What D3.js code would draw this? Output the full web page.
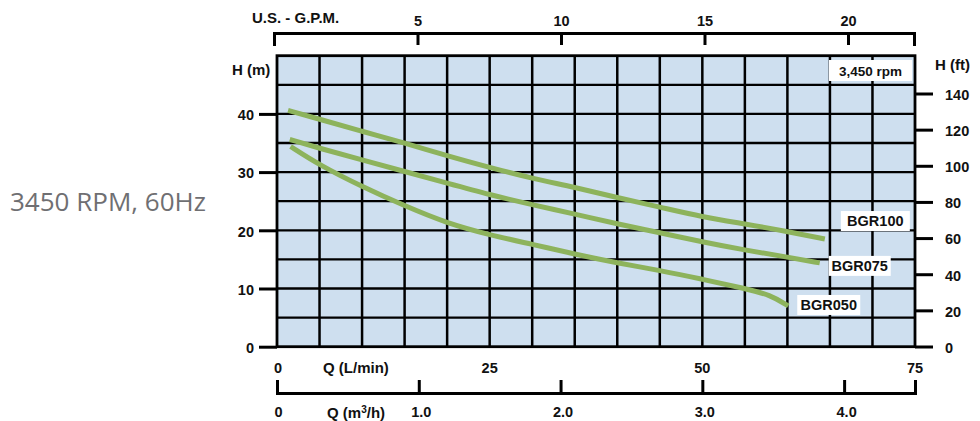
<!DOCTYPE html>
<html>
<head>
<meta charset="utf-8">
<script src="https://cdn.jsdelivr.net/npm/d3@7"></script>
<style>
  body { margin: 0; background: #fff; }
  svg text { font-family: "Liberation Sans", Arial, sans-serif; font-weight: bold; fill: #111; }
  .axis path, .axis line { stroke: #000; }
</style>
</head>
<body>
<div id="chart-area"></div>
<script>
// Data (Q in L/min, H in m)
var bgr100Q = [1.3, 5, 10, 15, 20, 25, 30, 35, 40, 45, 50, 55, 60, 64.4]
var bgr100H = [40.6, 39.1, 37.0, 35.0, 32.8, 30.8, 28.9, 27.4, 25.6, 24.0, 22.3, 21.1, 19.8, 18.5]
var bgr075Q = [1.5, 5, 10, 15, 20, 25, 30, 35, 40, 45, 50, 55, 60, 63.8]
var bgr075H = [35.6, 34.1, 32.1, 30.1, 28.1, 26.1, 24.4, 22.8, 21.1, 19.6, 18.0, 16.6, 15.4, 14.4]
var bgr050Q = [1.6, 5, 10, 15, 20, 25, 30, 35, 40, 45, 50, 55, 58, 60.1]
var bgr050H = [34.4, 31.2, 27.5, 24.2, 21.2, 19.2, 17.6, 15.9, 14.4, 13.1, 11.6, 10.0, 8.9, 7.0]
var seriesNames = ['BGR100', 'BGR075', 'BGR050']

// tick labels
var headTicksM = [0, 10, 20, 30, 40]
var headTicksFt = [0, 20, 40, 60, 80, 100, 120, 140]
var flowTicksLpm = [0, 25, 50, 75]
var flowTicksM3h = [0, 1, 2, 3, 4]
var flowTicksGpm = [5, 10, 15, 20]

var W = 980
var H = 421

var svg = d3.select('#chart-area')
  .append('svg')
  .attr('width', W)
  .attr('height', H)

// scales
var x = d3.scaleLinear().domain([0, 75]).range([277, 915])
var y = d3.scaleLinear().domain([0, 50]).range([346.7, 55.7])
var yFt = d3.scaleLinear().domain([0, 140]).range([346.5, 93.5])
var xM3h = d3.scaleLinear().domain([0, 4.5]).range([277, 915])
var xGpm = d3.scaleLinear().domain([0, 22.3]).range([274, 914])

// side caption
svg.append('text')
  .attr('x', 10)
  .attr('y', 211)
  .style('font-family', '"Open Sans", sans-serif')
  .style('font-weight', 'normal')
  .style('font-size', '26px')
  .style('fill', '#6f6f72')
  .text('3450 RPM, 60Hz')

// plot background
svg.append('rect')
  .attr('x', x(0))
  .attr('y', y(50))
  .attr('width', x(75) - x(0))
  .attr('height', y(0) - y(50))
  .attr('fill', '#cedfef')

// grid
svg.append('g').selectAll('line')
  .data(d3.range(5, 50, 5))
  .enter().append('line')
  .attr('x1', x(0)).attr('x2', x(75))
  .attr('y1', function (d) { return y(d) })
  .attr('y2', function (d) { return y(d) })
  .attr('stroke', '#000')
  .attr('stroke-width', 2.3)

svg.append('g').selectAll('line')
  .data(d3.range(5, 75, 5))
  .enter().append('line')
  .attr('y1', y(0)).attr('y2', y(50))
  .attr('x1', function (d) { return x(d) })
  .attr('x2', function (d) { return x(d) })
  .attr('stroke', '#000')
  .attr('stroke-width', 2.5)

svg.append('rect')
  .attr('x', x(0))
  .attr('y', y(50))
  .attr('width', x(75) - x(0))
  .attr('height', y(0) - y(50))
  .attr('fill', 'none')
  .attr('stroke', '#000')
  .attr('stroke-width', 2.8)

// left axis (m)
var yAxisCall = d3.axisLeft(y).tickValues(headTicksM).tickSize(18).tickPadding(5)
var yAxisGroup = svg.append('g')
  .attr('class', 'axis')
  .attr('transform', 'translate(' + x(0) + ',0)')
  .call(yAxisCall)
yAxisGroup.select('.domain').remove()
yAxisGroup.selectAll('line').attr('stroke-width', 3)
yAxisGroup.selectAll('text').style('font-size', '14.5px').attr('dy', '0.4em')

// right axis (ft)
var ftAxisCall = d3.axisRight(yFt).tickValues(headTicksFt).tickSize(18).tickPadding(12)
var ftAxisGroup = svg.append('g')
  .attr('class', 'axis')
  .attr('transform', 'translate(' + x(75) + ',0)')
  .call(ftAxisCall)
ftAxisGroup.select('.domain').remove()
ftAxisGroup.selectAll('line').attr('stroke-width', 3)
ftAxisGroup.selectAll('text').style('font-size', '14.5px').attr('dy', '0.4em')

// top axis (US GPM)
var gpmAxisCall = d3.axisTop(xGpm).tickValues(flowTicksGpm)
  .tickSizeInner(-12).tickSizeOuter(-13).tickPadding(7)
var gpmAxisGroup = svg.append('g')
  .attr('class', 'axis')
  .attr('transform', 'translate(0,33)')
  .call(gpmAxisCall)
gpmAxisGroup.selectAll('path, line').attr('stroke-width', 3)
gpmAxisGroup.selectAll('text').style('font-size', '14.5px')

// bottom axis (m3/h)
var m3hAxisCall = d3.axisBottom(xM3h).tickValues(flowTicksM3h)
  .tickSizeInner(-13).tickSizeOuter(-13).tickPadding(14)
  .tickFormat(function (d) { return d === 0 ? '0' : d3.format('.1f')(d) })
var m3hAxisGroup = svg.append('g')
  .attr('class', 'axis')
  .attr('transform', 'translate(0,393)')
  .call(m3hAxisCall)
m3hAxisGroup.selectAll('path, line').attr('stroke-width', 3)
m3hAxisGroup.selectAll('text').style('font-size', '14.5px')
m3hAxisGroup.selectAll('.tick text').attr('dx', function (d) { return d === 0 ? 1 : 2 })

// L/min tick labels (no axis line)
svg.append('g').selectAll('text')
  .data(flowTicksLpm)
  .enter().append('text')
  .attr('x', function (d) { return x(d) + (d === 0 ? 1 : 0) })
  .attr('y', 373)
  .attr('text-anchor', 'middle')
  .style('font-size', '14.5px')
  .text(function (d) { return d })

// axis titles
svg.append('text').attr('x', 252).attr('y', 23).style('font-size', '15px').text('U.S. - G.P.M.')
svg.append('text').attr('x', 232).attr('y', 75).style('font-size', '15px').text('H (m)')
svg.append('text').attr('x', 935).attr('y', 70).style('font-size', '15px').text('H (ft)')
svg.append('text').attr('x', 323).attr('y', 373).style('font-size', '15px').text('Q (L/min)')
var m3hTitle = svg.append('text').attr('x', 327).attr('y', 418).style('font-size', '15px')
m3hTitle.append('tspan').text('Q (m')
m3hTitle.append('tspan').attr('dy', -5).style('font-size', '10px').text('3')
m3hTitle.append('tspan').attr('dy', 5).text('/h)')

// rpm box
svg.append('rect')
  .attr('x', 829).attr('y', 60).attr('width', 83).attr('height', 21)
  .attr('fill', '#fff')
svg.append('text')
  .attr('x', 870.5).attr('y', 76)
  .attr('text-anchor', 'middle')
  .style('font-size', '13.5px')
  .text('3,450 rpm')

// curves
var series = [
  { name: seriesNames[0], q: bgr100Q, h: bgr100H, dx: 16, dy: -18, w: 69 },
  { name: seriesNames[1], q: bgr075Q, h: bgr075H, dx: 9, dy: 3, w: 62 },
  { name: seriesNames[2], q: bgr050Q, h: bgr050H, dx: 9, dy: -1, w: 63 }
]

// basis curve smooths the hand-read points
var line = d3.line()
  .x(function (d) { return x(d[0]) })
  .y(function (d) { return y(d[1]) })
  .curve(d3.curveBasis)

series.forEach(function (s) {
  var pts = s.q.map(function (q, i) { return [q, s.h[i]] })
  svg.append('path')
    .datum(pts)
    .attr('d', line)
    .attr('fill', 'none')
    .attr('stroke', '#8db35c')
    .attr('stroke-width', 5)
    .attr('stroke-linecap', 'butt')

  var last = pts[pts.length - 1]
  var lx = x(last[0]) + s.dx
  var ly = y(last[1]) + s.dy
  svg.append('rect')
    .attr('x', lx).attr('y', ly - 10)
    .attr('width', s.w).attr('height', 20)
    .attr('fill', '#fff')
  svg.append('text')
    .attr('x', lx + s.w / 2).attr('y', ly + 5)
    .attr('text-anchor', 'middle')
    .style('font-size', '14.5px')
    .text(s.name)
})
</script>
</body>
</html>
